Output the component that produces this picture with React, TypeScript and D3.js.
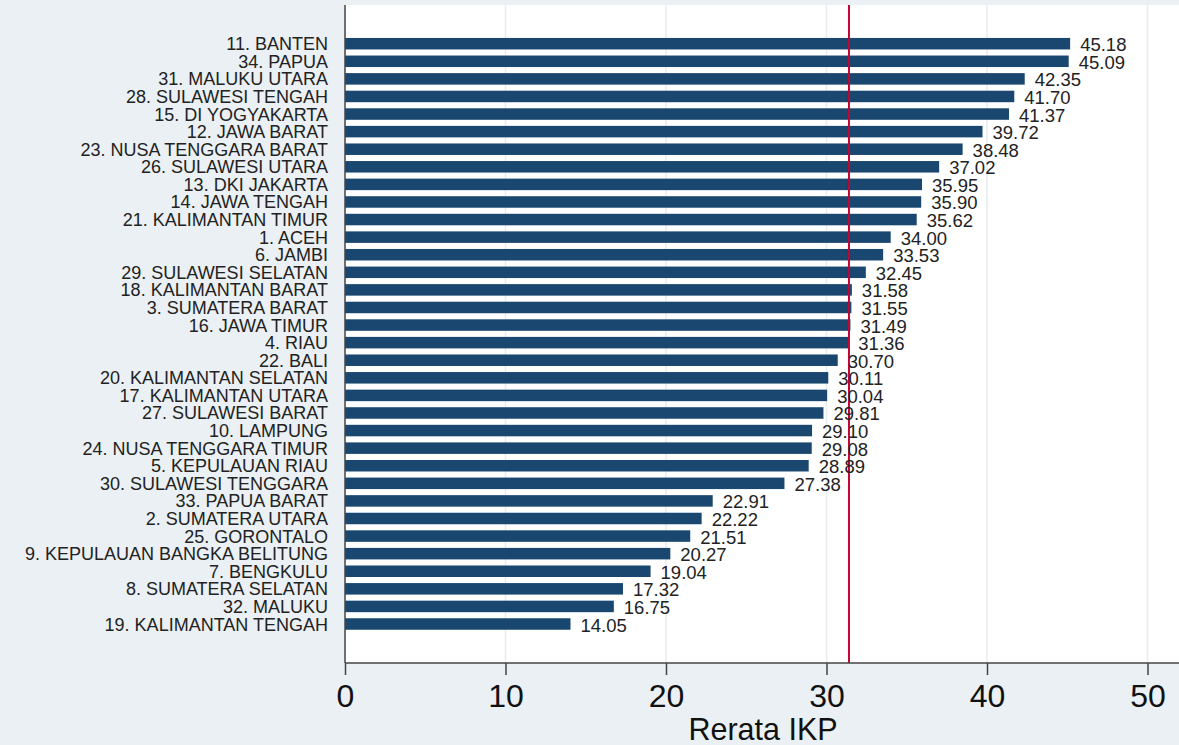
import * as React from "react";
import { useEffect, useRef } from "react";
import * as d3 from "d3";

const provinces = [
  "11. BANTEN",
  "34. PAPUA",
  "31. MALUKU UTARA",
  "28. SULAWESI TENGAH",
  "15. DI YOGYAKARTA",
  "12. JAWA BARAT",
  "23. NUSA TENGGARA BARAT",
  "26. SULAWESI UTARA",
  "13. DKI JAKARTA",
  "14. JAWA TENGAH",
  "21. KALIMANTAN TIMUR",
  "1. ACEH",
  "6. JAMBI",
  "29. SULAWESI SELATAN",
  "18. KALIMANTAN BARAT",
  "3. SUMATERA BARAT",
  "16. JAWA TIMUR",
  "4. RIAU",
  "22. BALI",
  "20. KALIMANTAN SELATAN",
  "17. KALIMANTAN UTARA",
  "27. SULAWESI BARAT",
  "10. LAMPUNG",
  "24. NUSA TENGGARA TIMUR",
  "5. KEPULAUAN RIAU",
  "30. SULAWESI TENGGARA",
  "33. PAPUA BARAT",
  "2. SUMATERA UTARA",
  "25. GORONTALO",
  "9. KEPULAUAN BANGKA BELITUNG",
  "7. BENGKULU",
  "8. SUMATERA SELATAN",
  "32. MALUKU",
  "19. KALIMANTAN TENGAH",
];

const ikp = [
  45.18, 45.09, 42.35, 41.7, 41.37, 39.72, 38.48, 37.02, 35.95, 35.9, 35.62,
  34.0, 33.53, 32.45, 31.58, 31.55, 31.49, 31.36, 30.7, 30.11, 30.04, 29.81,
  29.1, 29.08, 28.89, 27.38, 22.91, 22.22, 21.51, 20.27, 19.04, 17.32, 16.75,
  14.05,
];

const xTicks = [0, 10, 20, 30, 40, 50];
const referenceLine = 31.4; // national average marker
const axisTitle = "Rerata IKP";

const W = 1179;
const H = 745;

export default function App() {
  const ref = useRef<SVGSVGElement>(null);

  useEffect(() => {
    if (!ref.current) return;
    const svg = d3.select(ref.current);
    svg.selectAll("*").remove();

    const plotLeft = 345,
      plotRight = W,
      plotTop = 5,
      plotBottom = 663;

    const x = d3.scaleLinear().domain([0, 50]).range([plotLeft, 1147.5]);
    const y = d3
      .scalePoint<string>()
      .domain(provinces)
      .range([43.7, 624]);
    const barH = 11.5;

    // backgrounds
    svg
      .append("rect")
      .attr("width", W)
      .attr("height", H)
      .attr("fill", "#eaf0f3");
    svg
      .append("rect")
      .attr("x", plotLeft)
      .attr("y", plotTop)
      .attr("width", plotRight - plotLeft)
      .attr("height", plotBottom - plotTop)
      .attr("fill", "#ffffff");

    // gridlines
    svg
      .append("g")
      .selectAll("line")
      .data(xTicks.filter(t => t > 0))
      .enter()
      .append("line")
      .attr("x1", d => x(d))
      .attr("x2", d => x(d))
      .attr("y1", plotTop)
      .attr("y2", plotBottom)
      .attr("stroke", "#e8edef")
      .attr("stroke-width", 1.5);

    const data = provinces.map((p, i) => ({ name: p, value: ikp[i] }));

    // bars
    svg
      .append("g")
      .selectAll("rect")
      .data(data)
      .enter()
      .append("rect")
      .attr("x", x(0))
      .attr("y", d => (y(d.name) as number) - barH / 2)
      .attr("width", d => x(d.value) - x(0))
      .attr("height", barH)
      .attr("fill", "#1a476f");

    // reference line
    svg
      .append("line")
      .attr("x1", x(referenceLine))
      .attr("x2", x(referenceLine))
      .attr("y1", plotTop)
      .attr("y2", plotBottom)
      .attr("stroke", "#c10534")
      .attr("stroke-width", 2);

    // value labels
    svg
      .append("g")
      .selectAll("text")
      .data(data)
      .enter()
      .append("text")
      .attr("x", d => x(d.value) + 10)
      .attr("y", d => (y(d.name) as number) + 7.5)
      .attr("font-family", "Liberation Sans, Arial, sans-serif")
      .attr("font-size", 18.5)
      .attr("fill", "#222")
      .text(d => d.value.toFixed(2));

    // category labels
    svg
      .append("g")
      .selectAll("text")
      .data(data)
      .enter()
      .append("text")
      .attr("x", 328)
      .attr("y", d => (y(d.name) as number) + 6.5)
      .attr("text-anchor", "end")
      .attr("font-family", "Liberation Sans, Arial, sans-serif")
      .attr("font-size", 18)
      .attr("fill", "#222")
      .text(d => d.name);

    // axes lines
    svg
      .append("line")
      .attr("x1", plotLeft)
      .attr("x2", plotLeft)
      .attr("y1", plotTop)
      .attr("y2", plotBottom)
      .attr("stroke", "#444")
      .attr("stroke-width", 1.5);

    const xAxis = svg
      .append("g")
      .attr("transform", `translate(0,${plotBottom})`)
      .call(
        d3
          .axisBottom(x)
          .tickValues(xTicks)
          .tickSize(12)
          .tickPadding(12)
          .tickFormat(d3.format("d"))
      );
    xAxis.select(".domain").remove();
    xAxis
      .append("line")
      .attr("x1", plotLeft)
      .attr("x2", plotRight)
      .attr("stroke", "#444")
      .attr("stroke-width", 1.5);
    xAxis.selectAll(".tick line").attr("stroke", "#444").attr("stroke-width", 1.5);
    xAxis
      .selectAll(".tick text")
      .attr("font-family", "Liberation Sans, Arial, sans-serif")
      .attr("font-size", 32)
      .attr("fill", "#111")
      .attr("dy", "0.62em");

    svg
      .append("text")
      .attr("x", (plotLeft + plotRight) / 2 + 1)
      .attr("y", 740)
      .attr("text-anchor", "middle")
      .attr("font-family", "Liberation Sans, Arial, sans-serif")
      .attr("font-size", 30.5)
      .attr("fill", "#111")
      .text(axisTitle);
  }, []);

  return (
    <svg
      ref={ref}
      width={W}
      height={H}
      style={{ position: "absolute", left: 0, top: 0, display: "block" }}
    />
  );
}
